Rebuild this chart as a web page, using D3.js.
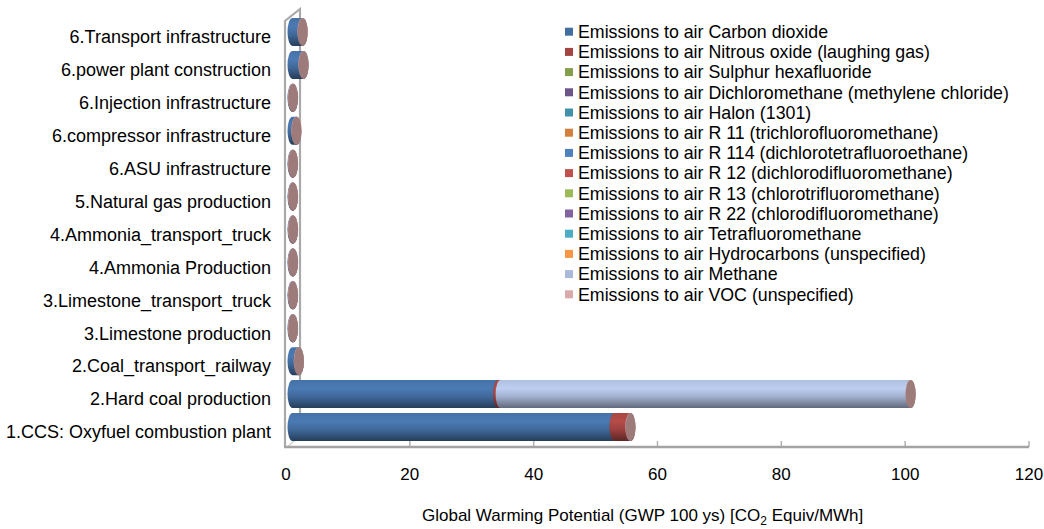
<!DOCTYPE html>
<html>
<head>
<meta charset="utf-8">
<script src="https://cdn.jsdelivr.net/npm/d3@7/dist/d3.min.js"></script>
<style>
  html, body { margin: 0; padding: 0; background: #fff; }
  svg { display: block; font-family: "Liberation Sans", Arial, sans-serif; }
</style>
</head>
<body>
<svg id="chart" width="1044" height="529"></svg>
<script>
// Process steps, listed bottom to top
const categories = [
  "1.CCS: Oxyfuel combustion plant",
  "2.Hard coal production",
  "2.Coal_transport_railway",
  "3.Limestone production",
  "3.Limestone_transport_truck",
  "4.Ammonia Production",
  "4.Ammonia_transport_truck",
  "5.Natural gas production",
  "6.ASU infrastructure",
  "6.compressor infrastructure",
  "6.Injection infrastructure",
  "6.power plant construction",
  "6.Transport infrastructure"
];

const seriesNames = [
  "Emissions to air Carbon dioxide",
  "Emissions to air Nitrous oxide (laughing gas)",
  "Emissions to air Sulphur hexafluoride",
  "Emissions to air Dichloromethane (methylene chloride)",
  "Emissions to air Halon (1301)",
  "Emissions to air R 11 (trichlorofluoromethane)",
  "Emissions to air R 114 (dichlorotetrafluoroethane)",
  "Emissions to air R 12 (dichlorodifluoromethane)",
  "Emissions to air R 13 (chlorotrifluoromethane)",
  "Emissions to air R 22 (chlorodifluoromethane)",
  "Emissions to air Tetrafluoromethane",
  "Emissions to air Hydrocarbons (unspecified)",
  "Emissions to air Methane",
  "Emissions to air VOC (unspecified)"
];

const seriesColors = [
  "#436EA1", "#A34441", "#849F4C", "#6D558A", "#4092A8", "#D2803C",
  "#4F81BD", "#C0504D", "#9BBB59", "#8064A2", "#4BACC6", "#F79646",
  "#AAB9D9", "#D9AAA9"
];

// GWP contributions [kg CO2 equiv / MWh], one value per category (same order as categories)
const carbonDioxide   = [52.0, 33.2, 1.0, 0.05, 0.05, 0.05, 0.05, 0.05, 0.05, 0.6, 0.05, 1.75, 1.6];
const nitrousOxide    = [2.55, 0.4, 0, 0, 0, 0, 0, 0, 0, 0, 0, 0, 0];
const sulphurHexafl   = [0, 0, 0, 0, 0, 0, 0, 0, 0, 0, 0, 0, 0];
const dichloromethane = [0, 0, 0, 0, 0, 0, 0, 0, 0, 0, 0, 0, 0];
const halon1301       = [0, 0, 0, 0, 0, 0, 0, 0, 0, 0, 0, 0, 0];
const r11             = [0, 0, 0, 0, 0, 0, 0, 0, 0, 0, 0, 0, 0];
const r114            = [0, 0, 0, 0, 0, 0, 0, 0, 0, 0, 0, 0, 0];
const r12             = [0, 0, 0, 0, 0, 0, 0, 0, 0, 0, 0, 0, 0];
const r13             = [0, 0, 0, 0, 0, 0, 0, 0, 0, 0, 0, 0, 0];
const r22             = [0, 0, 0, 0, 0, 0, 0, 0, 0, 0, 0, 0, 0];
const tetrafluorometh = [0, 0, 0, 0, 0, 0, 0, 0, 0, 0, 0, 0, 0];
const hydrocarbons    = [0, 0, 0, 0, 0, 0, 0, 0, 0, 0, 0, 0, 0];
const methane         = [0, 66.2, 0, 0, 0, 0, 0, 0, 0, 0, 0, 0, 0];
const voc             = [0.05, 0.05, 0.05, 0.05, 0.05, 0.05, 0.05, 0.05, 0.05, 0.05, 0.05, 0.05, 0.05];

const seriesValues = [
  carbonDioxide, nitrousOxide, sulphurHexafl, dichloromethane, halon1301, r11,
  r114, r12, r13, r22, tetrafluorometh, hydrocarbons, methane, voc
];

const xTicks = [0, 20, 40, 60, 80, 100, 120];

const svg = d3.select("#chart");
const defs = svg.append("defs");

// scales
const x = d3.scaleLinear().domain([0, 120]).range([286, 1029]);
const y = d3.scaleBand().domain(categories.slice().reverse()).range([20.5, 448.5]);

const depthX = 6.5, depthY = -5;   // bars sit half-way into the 3D depth
const barH = 28, capRx = 5;
const floorY = 447;

// cylinder shading gradient per series
seriesColors.forEach((c, i) => {
  const base = d3.color(c);
  const g = defs.append("linearGradient")
    .attr("id", "cyl" + i)
    .attr("x1", 0).attr("y1", 0).attr("x2", 0).attr("y2", 1);
  g.append("stop").attr("offset", "0%").attr("stop-color", base.brighter(0.1));
  g.append("stop").attr("offset", "30%").attr("stop-color", base.brighter(0.3));
  g.append("stop").attr("offset", "60%").attr("stop-color", base.darker(0.15));
  g.append("stop").attr("offset", "88%").attr("stop-color", base.darker(1.1));
  g.append("stop").attr("offset", "100%").attr("stop-color", base.darker(1.6));
});

// side wall and floor edge
const wall = svg.append("g").attr("fill", "none").attr("stroke-linecap", "round");
wall.append("path")
  .attr("d", "M285,447 L285,21 L300,9 L300,436")
  .attr("stroke", "#a9a9a9").attr("stroke-width", 2.2);
wall.append("path")
  .attr("d", "M287,447 L300,436")
  .attr("stroke", "#cfcfcf").attr("stroke-width", 1.2);

// tick marks on the floor edge
svg.append("g").selectAll("line").data(xTicks.slice(1)).join("line")
  .attr("x1", d => x(d)).attr("x2", d => x(d))
  .attr("y1", floorY - 6).attr("y2", floorY)
  .attr("stroke", "#b0b0b0").attr("stroke-width", 1.5);

svg.append("line")
  .attr("x1", 284).attr("x2", x(120)).attr("y1", floorY).attr("y2", floorY)
  .attr("stroke", "#a3a3a3").attr("stroke-width", 2.4);

// stacked cylinders
const stacked = categories.map((cat, ci) => {
  let acc = 0;
  const segs = [];
  seriesValues.forEach((vals, si) => {
    const v = vals[ci];
    if (v > 0) {
      segs.push({ si, x0: acc, x1: acc + v });
      acc += v;
    }
  });
  return { cat, segs };
});

const bars = svg.append("g");
stacked.forEach(d => {
  const cy = y(d.cat) + y.bandwidth() / 2 + depthY;
  const top = cy - barH / 2, bot = cy + barH / 2, ry = barH / 2;
  const g = bars.append("g");
  d.segs.forEach(s => {
    const xa = x(s.x0) + depthX, xb = x(s.x1) + depthX;
    g.append("path")
      .attr("d", `M${xa},${top} L${xb},${top} A${capRx},${ry} 0 0 1 ${xb},${bot} L${xa},${bot} A${capRx},${ry} 0 0 1 ${xa},${top} Z`)
      .attr("fill", `url(#cyl${s.si})`);
    g.append("ellipse")
      .attr("cx", xb).attr("cy", cy).attr("rx", capRx).attr("ry", ry)
      .attr("fill", d3.color(seriesColors[s.si]).darker(0.9));
  });
});

// category labels
svg.append("g").selectAll("text").data(categories).join("text")
  .attr("x", 271)
  .attr("y", d => y(d) + y.bandwidth() / 2)
  .attr("dy", "0.35em")
  .attr("text-anchor", "end")
  .attr("font-size", 18)
  .attr("fill", "#000")
  .text(d => d);

// value axis labels
svg.append("g").selectAll("text").data(xTicks).join("text")
  .attr("x", d => x(d))
  .attr("y", 480)
  .attr("text-anchor", "middle")
  .attr("font-size", 17)
  .attr("fill", "#000")
  .text(d => d);

// axis title
const title = svg.append("text")
  .attr("x", 422).attr("y", 521)
  .attr("text-anchor", "start")
  .attr("font-size", 17)
  .attr("fill", "#000");
title.append("tspan").text("Global Warming Potential (GWP 100 ys) [CO");
title.append("tspan").attr("font-size", 12).attr("dy", 4).text("2");
title.append("tspan").attr("dy", -4).text(" Equiv/MWh]");

// legend
const legend = svg.append("g").attr("transform", "translate(565,31.7)");
const rows = legend.selectAll("g").data(seriesNames).join("g")
  .attr("transform", (d, i) => `translate(0,${i * 20.2})`);
rows.append("rect")
  .attr("x", 0).attr("y", -4).attr("width", 8).attr("height", 8)
  .attr("fill", (d, i) => seriesColors[i]);
rows.append("text")
  .attr("x", 13).attr("y", 0).attr("dy", "0.35em")
  .attr("font-size", 17.8)
  .attr("fill", "#000")
  .text(d => d);
</script>
</body>
</html>
